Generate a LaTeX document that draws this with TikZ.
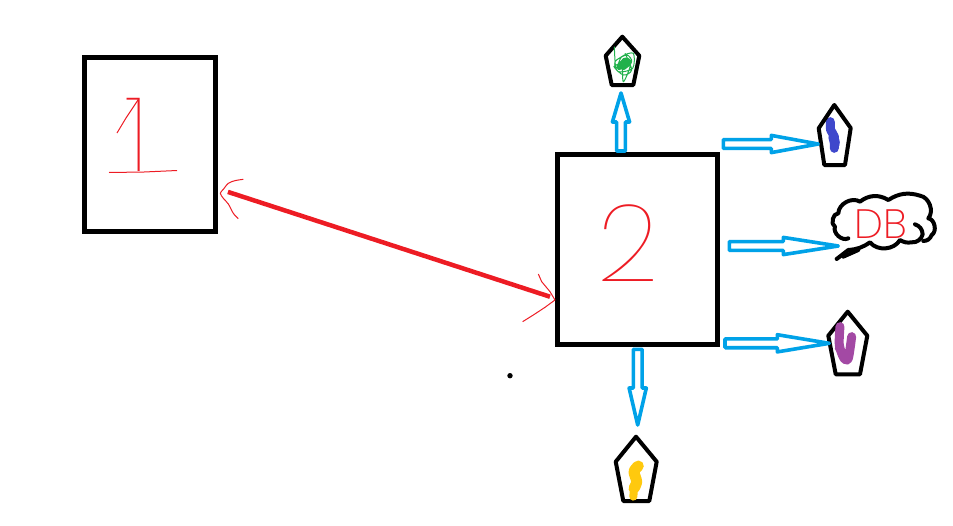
\documentclass[tikz,border=0pt]{standalone}
\usepackage{fontspec}
\newfontfamily\thinfont{Poppins Thin}
\newfontfamily\lightfont{Poppins ExtraLight}
\usetikzlibrary{calc}
\definecolor{msred}{HTML}{ED1C24}
\definecolor{msblue}{HTML}{00A2E8}
\definecolor{msgreen}{HTML}{22B14C}
\definecolor{msindigo}{HTML}{3F48CC}
\definecolor{mspurple}{HTML}{A349A4}
\definecolor{msyellow}{HTML}{FFC90E}
\tikzset{
  sq/.style={draw=black,line width=5pt,inner sep=0pt,outer sep=0pt,fill=none},
  pent/.style={draw=black,line width=4pt,line join=round},
  flow/.style={draw=msblue,line width=3.6pt,line join=round},
  link/.style={draw=msred,line width=4.5pt},
  sketch/.style={draw=msred,line width=1pt,line join=round},
  blob/.style={line width=#1,line cap=round,line join=round},
  hand/.style={text=msred,inner sep=0pt},
  zoomed/.style={shift={#1},x=.3333pt,y=-.3333pt},
  outline/.style={draw=black,line width=4pt,line cap=round,line join=round}
}
\newcommand\harrow[3]{%
  \path ($(#2)!#3!(#1)$) coordinate (m);
  \draw[flow] ($(#1)!4.4pt!90:(#2)$) -- ($(m)!4.4pt!90:(#2)$) -- ($(m)!8.6pt!90:(#2)$) -- (#2)
    -- ($(m)!8.6pt!-90:(#2)$) -- ($(m)!4.4pt!-90:(#2)$) -- ($(#1)!4.4pt!-90:(#2)$) -- cycle;
}
\begin{document}
\begin{tikzpicture}[x=1pt,y=-1pt]
\useasboundingbox (0,0) rectangle (953,525);
% boxes
\node[sq,minimum width=131.3pt,minimum height=173.8pt] (box1) at (150.3,144.4) {};
\node[sq,minimum width=160.5pt,minimum height=190pt] (box2) at (637.25,249) {};
\node[hand,font=\thinfont\fontsize{104}{104}\selectfont] (one) at (137,135) {1};
\node[hand,font=\thinfont\fontsize{108}{108}\selectfont] (two) at (628,243) {2};
\draw[sketch] (117,133) -- (126,118) -- (138,100);
\draw[sketch] (109,172.5) -- (144,172) -- (177,170.5);
% link
\draw[link,shorten <=12.6pt,shorten >=7.4pt] ([yshift=-43.6pt]box1.east) -- ([yshift=-50pt]box2.west);
\begin{scope}[zoomed={(75,50)}]
\draw[sketch] plot[smooth] coordinates {(505,388) (480,392) (460,400) (445,418) (436,430) (445,445) (460,462) (475,490) (490,506)};
\end{scope}
\begin{scope}[zoomed={(500,190)}]
\draw[sketch] plot coordinates {(115,252) (125,275) (150,305) (165,330) (135,352) (100,375) (68,395)};
\end{scope}
% green pentagon
\draw[pent] (622.3,36.7) -- (639.3,55.7) -- (633.3,85) -- (611.7,85) -- (605.7,55.7) -- cycle;
\begin{scope}[zoomed={(590,25)}]
\draw[msgreen,line width=1pt] plot[smooth] coordinates {(73,65) (78,130) (95,95) (130,85) (128,130) (85,140) (75,110) (110,90) (125,110) (95,130) (85,115) (110,105) (120,125) (100,170) (95,120) (72,125) (100,150) (125,135) (105,85)};
\draw[msgreen,blob=5pt] plot[smooth] coordinates {(88,128) (105,105) (118,112) (100,128)};
% indigo blob
\draw[msindigo,blob=9pt] plot[smooth] coordinates {(721,290) (722,315) (733,335) (733,370)};
\draw[msindigo,blob=10pt] (730,335) -- (735,355);
\end{scope}
% indigo pentagon
\draw[pent] (834.3,105) -- (850.7,128) -- (845,165) -- (824.3,165) -- (818.7,128.3) -- cycle;
% purple pentagon
\draw[pent] (847.7,311.7) -- (867.3,335.7) -- (860,374.3) -- (835.7,374.3) -- (828.3,335.7) -- cycle;
% yellow pentagon
\draw[pent] (636,436.7) -- (656.7,461.7) -- (649.3,501) -- (623.3,501) -- (615.7,461.7) -- cycle;
\begin{scope}[zoomed={(590,340)}]
\draw[msyellow,blob=11pt] plot[smooth] coordinates {(145,378) (132,395) (140,425) (132,445)};
\draw[msyellow,blob=8pt] (132,445) -- (130,470);
\end{scope}
% cloud
\begin{scope}[zoomed={(720,185)}]
\draw[outline] (385,160) to[bend left=70] (345,125) to[bend left=80] (355,85)
  to[bend left=60] (420,50) to[bend left=35] (505,45) to[bend left=25] (600,32)
  to[bend left=60] (625,100) to[bend left=70] (635,150) to[bend left=35] (610,168);
\draw[outline] (585,118) to[bend left=35] (608,148) to[bend left=40] (575,172)
  to[bend left=20] (540,165) to[bend left=55] (450,172) to[bend left=15] (385,195) -- (350,222);
\draw[outline] (370,215) -- (415,195);
\draw[mspurple,blob=9pt] plot[smooth] coordinates {(360,425) (358,480) (372,520) (385,520) (395,455)};
\draw[mspurple,blob=7pt] (355,490) -- (385,515);
\end{scope}
\node[hand,font=\lightfont\fontsize{41}{41}\selectfont] (db) at (881,224) {DB};
% arrows
\coordinate (at1) at (621,151);   \coordinate (ah1) at (621,93);
\coordinate (at2) at (723.3,144); \coordinate (ah2) at (818.3,144);
\coordinate (at3) at (729.3,246); \coordinate (ah3) at (838.3,246);
\coordinate (at4) at (725,343.3); \coordinate (ah4) at (829.3,343.3);
\coordinate (at5) at (637.7,349.3); \coordinate (ah5) at (637.7,425);
\harrow{at1}{ah1}{29pt}
\harrow{at2}{ah2}{47pt}
\harrow{at3}{ah3}{55pt}
\harrow{at4}{ah4}{52pt}
\harrow{at5}{ah5}{37pt}
% dot
\fill[black] (510,375.7) circle (2.7pt);
\end{tikzpicture}
\end{document}
